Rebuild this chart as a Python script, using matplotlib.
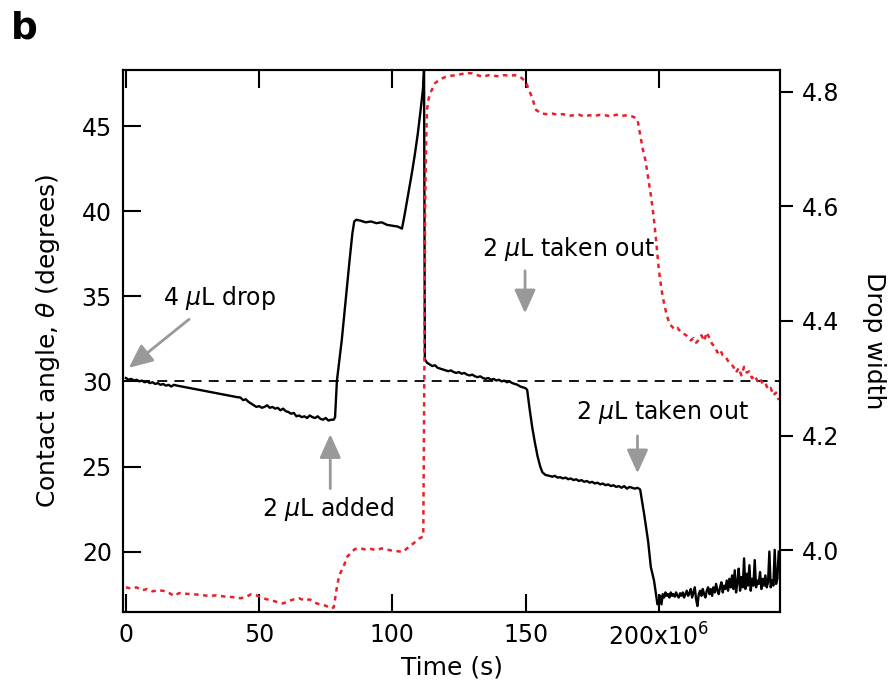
import numpy as np
import matplotlib
matplotlib.use("Agg")
import matplotlib.pyplot as plt

plt.rcParams['font.family'] = 'DejaVu Sans'
plt.rcParams['mathtext.fontset'] = 'dejavusans'

# contact angle (left axis), time in s
angle_t = [0, 1, 2, 3, 4, 5, 6, 7, 8, 9, 10, 11, 12, 13, 14, 15, 16, 17, 18, 19,
           41.6, 43, 44, 45, 46, 47, 48, 49, 50, 51, 52, 53, 54, 55, 56, 57, 58, 59,
           60, 61, 62, 63, 64, 65, 66, 67, 68, 69, 70, 71, 72, 73, 74, 75, 76, 77, 78,
           78.5, 79.2, 80, 81, 82, 83, 84, 85, 85.7, 86.5, 88, 89, 90, 92, 94, 96, 98,
           100, 102, 103.6, 104.5, 105.5, 106.5, 107.5, 108.5, 109.5, 110.5, 111.5, 111.9,
           112.2, 113, 114, 115, 116, 117, 118, 119, 120, 121, 122, 123, 124, 125, 126,
           127, 128, 129, 130, 131, 132, 133, 134, 135, 136, 137, 138, 139, 140, 141,
           142, 143, 144, 145, 146, 147, 148, 149, 150, 150.6, 151.5, 152.5, 153.5,
           154.5, 155.5, 156.3, 157.5, 159, 160, 161, 162, 163, 164, 165, 166, 167, 168,
           169, 170, 171, 172, 173, 174, 175, 176, 177, 178, 179, 180, 181, 182, 183,
           184, 185, 186, 187, 188, 189, 190, 191, 192, 193, 194.5, 196, 197, 198.2,
           199.5,
           200.0, 200.5, 201.0, 201.5, 202.0, 202.5, 203.0, 203.5, 204.0, 204.5, 205.0,
           205.5, 206.0, 206.5, 207.0, 207.5, 208.0, 208.5, 209.0, 209.5, 210.0, 210.5,
           211.0, 211.5, 212.0, 212.5, 213.0, 213.5, 214.0, 214.5, 215.0, 215.5, 216.0,
           216.5, 217.0, 217.5, 218.0, 218.5, 219.0, 219.5, 220.0, 220.5, 221.0, 221.5,
           222.0, 222.5, 223.0, 223.5, 224.0, 224.5, 225.0, 225.5, 226.0, 226.5, 227.0,
           227.5, 228.0, 228.5, 229.0, 229.5, 230.0, 230.5, 231.0, 231.5, 232.0, 232.5,
           233.0, 233.5, 234.0, 234.5, 235.0, 235.5, 236.0, 236.5, 237.0, 237.5, 238.0,
           238.5, 239.0, 239.5, 240.0, 240.5, 241.0, 241.5, 242.0, 242.5, 243.0, 243.5,
           244.0, 244.5, 245.0]
angle_v = [30.2, 30.1, 30.15, 30.05, 30.1, 30.0, 30.05, 29.95, 30.0, 29.9, 29.95, 29.85,
           29.9, 29.8, 29.85, 29.75, 29.8, 29.7, 29.8, 29.76,
           29.08, 29.05, 28.9, 28.95, 28.8, 28.7, 28.6, 28.5, 28.55, 28.45, 28.5, 28.6,
           28.45, 28.5, 28.4, 28.45, 28.3, 28.4, 28.25, 28.2, 28.1, 28.15, 27.95, 28.0,
           27.9, 27.95, 27.85, 28.0, 27.9, 27.85, 27.95, 27.8, 27.75, 27.85, 27.7, 27.75,
           27.75,
           27.9, 30.05, 31.1, 32.4, 34.0, 35.6, 37.2, 38.7, 39.4, 39.5, 39.45, 39.4,
           39.35, 39.4, 39.3, 39.35, 39.2, 39.15, 39.1, 38.98, 39.7, 40.6, 41.5, 42.4,
           43.4, 44.5, 45.8, 47.2, 48.4,
           31.3, 31.1, 31.0, 30.9, 30.95, 30.8, 30.75, 30.7, 30.65, 30.6, 30.65, 30.55,
           30.5, 30.55, 30.45, 30.5, 30.4, 30.35, 30.4, 30.3, 30.25, 30.3, 30.2, 30.15,
           30.2, 30.1, 30.15, 30.05, 30.1, 30.0, 30.05, 29.95, 30.0, 29.9, 29.85, 29.8,
           29.7, 29.65, 29.6, 29.5, 28.4, 27.3, 26.4, 25.6, 25.0, 24.66, 24.5, 24.45,
           24.4, 24.45, 24.35, 24.37, 24.3, 24.35, 24.25, 24.3, 24.2, 24.25, 24.15, 24.2,
           24.1, 24.15, 24.05, 24.1, 24.0, 24.05, 23.95, 24.0, 23.9, 23.95, 23.85, 23.9,
           23.8, 23.85, 23.75, 23.85, 23.7, 23.8, 23.75, 23.7, 23.75, 23.65,
           22.2, 20.6, 19.1, 18.3, 16.9,
           17.1, 17.4, 16.9, 17.5, 17.3, 17.6, 17.4, 17.5, 17.3, 17.6, 17.4, 17.5, 17.35,
           17.6, 17.4, 17.3, 17.55, 17.4, 17.6, 17.3, 17.5, 17.7, 17.4, 17.55, 17.8,
           17.3, 17.6, 17.9, 17.2, 16.8, 17.5, 17.7, 17.4, 17.8, 17.5, 17.3, 17.7, 17.9,
           17.5, 17.8, 17.4, 17.9, 17.6, 18.1, 17.7, 17.5, 17.9, 18.2, 17.6, 18.0, 17.8,
           18.3, 17.7, 18.4, 17.9, 18.6, 17.8, 18.9, 17.6, 18.2, 19.0, 17.7, 18.5, 17.9,
           19.6, 17.8, 18.7, 18.0, 19.2, 17.7, 18.4, 18.0, 19.5, 17.9, 18.3, 18.1, 18.8,
           17.8, 18.4, 18.0, 18.6, 17.9, 18.2, 20.0, 17.9, 18.3, 18.0, 20.1, 18.1, 18.4,
           20.0]

# drop width (right axis)
width_t = [0, 2, 4, 6, 8, 10, 12, 14, 16, 18, 20, 22, 25, 28, 31, 34, 37, 40, 43, 45,
           47, 49, 51, 53, 55, 57, 59, 61, 63, 65, 67, 69, 71, 73, 75, 77, 78, 79, 80,
           81, 82, 83, 84, 85, 86, 88, 90, 92, 94, 96, 98, 100, 102, 104, 106, 108, 110,
           111.6, 112.0, 112.3, 112.7, 113, 113.5, 114, 115, 116, 118, 120, 122, 124, 126,
           128, 130, 132, 134, 136, 138, 140, 142, 144, 146, 148, 150, 152, 154, 156,
           158, 160, 162, 164, 166, 168, 170, 172, 174, 176, 178, 180, 182, 184, 186,
           188, 190, 191, 192, 193, 194, 195, 196, 197, 198, 199, 200, 201, 202, 203,
           204, 205, 206, 207, 208, 209, 210, 211, 212, 213, 214, 215, 216, 217, 218,
           219, 220, 221, 222, 223, 224, 225, 226, 227, 228, 229, 230, 231, 232, 233,
           234, 235, 236, 237, 238, 239, 240, 241, 242, 243, 244, 245]
width_v = [3.935, 3.933, 3.935, 3.930, 3.932, 3.928, 3.930, 3.929, 3.926, 3.920, 3.925,
           3.924, 3.923, 3.922, 3.920, 3.921, 3.919, 3.918, 3.916, 3.918, 3.923, 3.921,
           3.917, 3.914, 3.912, 3.909, 3.907, 3.911, 3.914, 3.916, 3.912, 3.914, 3.908,
           3.905, 3.903, 3.898, 3.900, 3.930, 3.955, 3.965, 3.975, 3.988, 3.993, 3.998,
           4.002, 4.003, 4.001, 4.002, 4.000, 4.003, 4.001, 3.999, 3.998, 3.997, 4.005,
           4.012, 4.020, 4.024,
           4.30, 4.60, 4.72, 4.768, 4.785, 4.795, 4.805, 4.815, 4.822, 4.826, 4.828,
           4.829, 4.831, 4.833, 4.832, 4.829, 4.826, 4.829, 4.828, 4.827, 4.829, 4.828,
           4.829, 4.826, 4.818, 4.795, 4.768, 4.762, 4.761, 4.762, 4.760, 4.761, 4.758,
           4.759, 4.760, 4.757, 4.759, 4.758, 4.760, 4.759, 4.757, 4.760, 4.758, 4.759,
           4.757, 4.755, 4.752, 4.725, 4.700, 4.680, 4.650, 4.620, 4.585, 4.540, 4.490,
           4.455, 4.430, 4.410, 4.395, 4.390, 4.385, 4.388, 4.382, 4.378, 4.376, 4.372,
           4.366, 4.370, 4.362, 4.367, 4.375, 4.365, 4.380, 4.370, 4.360, 4.355, 4.345,
           4.350, 4.340, 4.338, 4.330, 4.326, 4.320, 4.310, 4.318, 4.305, 4.320, 4.310,
           4.312, 4.300, 4.305, 4.295, 4.300, 4.290, 4.292, 4.280, 4.283, 4.270, 4.275,
           4.262]

x_ticks = [0, 50, 100, 150, 200]
x_tick_labels = ['0', '50', '100', '150', '200x10$^{6}$']
angle_ticks = [20, 25, 30, 35, 40, 45]
width_ticks = [4.0, 4.2, 4.4, 4.6, 4.8]

fig = plt.figure(figsize=(8.93, 6.96), dpi=100)
ax = fig.add_axes([0.1377, 0.1207, 0.7358, 0.7787])
ax2 = ax.twinx()

ax.plot(angle_t, angle_v, color='black', lw=1.7, zorder=3)
ax.axhline(30, color='black', lw=1.3, ls=(0, (5.5, 4)), zorder=2)
ax2.plot(width_t, width_v, color='#e8202a', lw=1.8, ls=(0, (1.8, 1.8)))

ax.set_xlim(-1.1, 245.5)
ax.set_ylim(16.45, 48.3)
ax2.set_ylim(3.892, 4.838)

ax.set_xticks(x_ticks)
ax.set_xticklabels(x_tick_labels)
ax.set_yticks(angle_ticks)
ax2.set_yticks(width_ticks)
ax2.set_yticklabels(['4.0', '4.2', '4.4', '4.6', '4.8'])

ax.tick_params(axis='x', direction='in', top=True, length=13, width=1.5,
               labelsize=17, pad=8)
ax.tick_params(axis='y', direction='in', length=13, width=1.5, labelsize=17, pad=8)
ax2.tick_params(axis='y', direction='out', length=9.5, width=1.5, labelsize=17, pad=6)

for a in (ax, ax2):
    for s in a.spines.values():
        s.set_linewidth(1.5)

ax.set_xlabel('Time (s)', fontsize=18, labelpad=4)
ax.set_ylabel(r'Contact angle, $\theta$ (degrees)', fontsize=18)
ax.yaxis.set_label_coords(-0.093, 0.5)
ax2.set_ylabel('Drop width', fontsize=18, rotation=-90, va='bottom')
ax2.yaxis.set_label_coords(1.125, 0.5)

# annotations
arrow_kw = dict(arrowstyle='-|>,head_length=0.6,head_width=0.27', color='#999999',
                lw=2, mutation_scale=24, shrinkA=0, shrinkB=0)
ax.annotate('', xy=(1.1, 30.8), xytext=(23.7, 33.65), arrowprops=arrow_kw)
ax.text(35.3, 34.9, r'4 $\mu$L drop', fontsize=17, ha='center', va='center')

ax.annotate('', xy=(76.7, 26.9), xytext=(76.7, 23.7), arrowprops=arrow_kw)
ax.text(76, 22.5, r'2 $\mu$L added', fontsize=17, ha='center', va='center')

ax.annotate('', xy=(149.8, 34.0), xytext=(149.8, 36.5), arrowprops=arrow_kw)
ax.text(166, 37.8, r'2 $\mu$L taken out', fontsize=17, ha='center', va='center')

ax.annotate('', xy=(192, 24.6), xytext=(192, 26.8), arrowprops=arrow_kw)
ax.text(201.4, 28.2, r'2 $\mu$L taken out', fontsize=17, ha='center', va='center')

fig.text(0.012, 0.985, 'b', fontsize=27, fontweight='bold', va='top', ha='left')

fig.savefig('out.png', dpi=100)
